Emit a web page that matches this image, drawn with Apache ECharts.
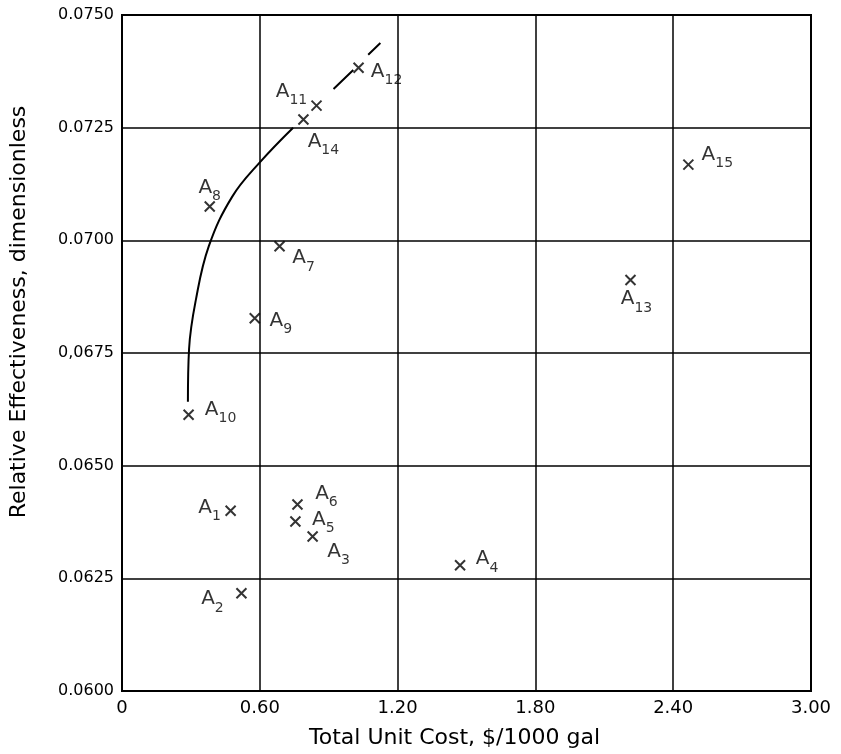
<!DOCTYPE html>
<html>
<head>
<meta charset="utf-8">
<script src="https://cdn.jsdelivr.net/npm/echarts@6/dist/echarts.min.js"></script>
<style>html,body{margin:0;padding:0;background:#fff}#c{width:841px;height:754px}</style>
</head>
<body>
<div id="c"></div>
<script>
// ---- data ----
var pointNames = ['1','2','3','4','5','6','7','8','9','10','11','12','13','14','15'];
var costX  = [0.473, 0.520, 0.830, 1.472, 0.755, 0.764, 0.686, 0.382, 0.578, 0.290, 0.847, 1.030, 2.214, 0.790, 2.466];
var effY   = [0.06400, 0.06217, 0.06343, 0.06279, 0.06376, 0.06414, 0.06987, 0.07075, 0.06827, 0.06613, 0.07299, 0.07383, 0.06912, 0.07268, 0.07168];
var curveX = [1.125, 1.072, null, 1.007, 0.921, null, 0.745, 0.600, 0.480, 0.378, 0.322, 0.292, 0.287];
var curveY = [0.07438, 0.07412, null, 0.07378, 0.07336, null, 0.07250, 0.07173, 0.07097, 0.06987, 0.06869, 0.06759, 0.06642];
var xTickLabels = ['0', '0.60', '1.20', '1.80', '2.40', '3.00'];
var yTickLabels = ['0.0600', '0.0625', '0.0650', '0,0675', '0.0700', '0.0725', '0.0750'];

// label offsets (style only)
var labelOffsets = {
  '1': [-21,-5], '2': [-29,4], '3': [26,13], '4': [27,-8], '5': [28,-4],
  '6': [29,-13], '7': [24,10], '8': [0,-21], '9': [26,0], '10': [32,-7],
  '11': [-25,-16], '12': [28,2], '13': [6,17], '14': [20,20], '15': [29,-12]
};

var scatterData = pointNames.map(function (n, i) {
  return {
    value: [costX[i], effY[i]],
    name: n,
    label: { offset: labelOffsets[n] }
  };
});
var curveData = curveX.map(function (x, i) {
  return x === null ? [null, null] : [x, curveY[i]];
});

var FONT = 'DejaVu Sans';
var chart = echarts.init(document.getElementById('c'), null, { renderer: 'canvas' });
chart.setOption({
  backgroundColor: '#fff',
  animation: false,
  grid: { left: 120, top: 15, width: 691, height: 678, show: true, borderColor: '#000', borderWidth: 2, backgroundColor: 'transparent' },
  xAxis: {
    type: 'value', min: 0, max: 3.0, interval: 0.6,
    name: 'Total Unit Cost, $/1000 gal', nameLocation: 'middle', nameGap: 36,
    nameTextStyle: { color: '#000', fontSize: 22, fontFamily: FONT, padding: [0, 24, 0, 0] },
    axisLine: { show: true, lineStyle: { color: '#000', width: 2 } },
    axisTick: { show: false },
    axisLabel: {
      color: '#000', fontSize: 18, fontFamily: FONT, margin: 8,
      formatter: function (v) { return xTickLabels[Math.round(v / 0.6)]; }
    },
    splitLine: { show: true, lineStyle: { color: '#000', width: 1.5 } }
  },
  yAxis: {
    type: 'value', min: 0.06, max: 0.075, interval: 0.0025,
    name: 'Relative Effectiveness, dimensionless', nameLocation: 'middle', nameGap: 92,
    nameTextStyle: { color: '#000', fontSize: 22, fontFamily: FONT, padding: [0, 0, 0, 82] },
    axisLine: { show: true, lineStyle: { color: '#000', width: 2 } },
    axisTick: { show: false },
    axisLabel: {
      color: '#000', fontSize: 16, fontFamily: FONT, margin: 8,
      formatter: function (v) { return yTickLabels[Math.round((v - 0.06) / 0.0025)]; }
    },
    splitLine: { show: true, lineStyle: { color: '#000', width: 1.5 } }
  },
  series: [
    {
      type: 'line', data: curveData, smooth: 0.4, connectNulls: false,
      showSymbol: false, symbol: 'none',
      lineStyle: { color: '#000', width: 2 }, z: 3
    },
    {
      type: 'scatter', data: scatterData,
      symbol: 'path://M0,0L10,10M10,0L0,10', symbolSize: 10,
      itemStyle: { color: 'none', borderColor: '#000', borderWidth: 2 },
      label: {
        show: true, position: 'inside', color: '#000',
        formatter: function (p) { return '{a|A}{s|' + p.name + '}'; },
        rich: {
          a: { fontSize: 20, fontFamily: FONT, color: '#000', lineHeight: 24, verticalAlign: 'bottom' },
          s: { fontSize: 14, fontFamily: FONT, color: '#000', lineHeight: 24, verticalAlign: 'bottom', padding: [0, 0, -6, 0] }
        }
      },
      z: 4
    }
  ]
});
</script>
</body>
</html>
